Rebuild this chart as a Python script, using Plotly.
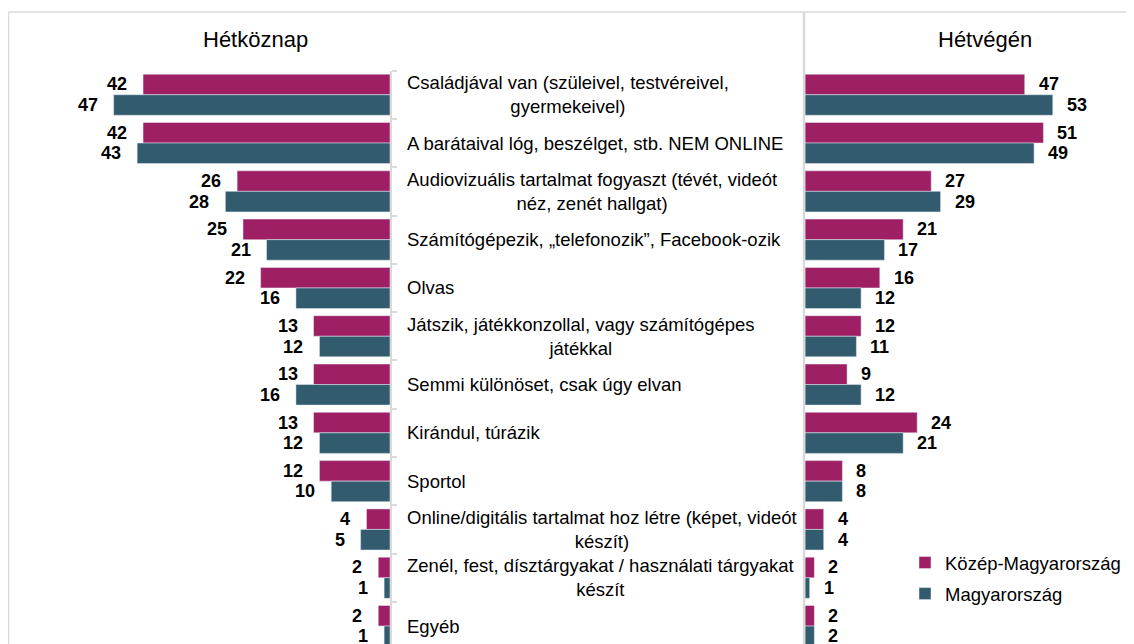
import plotly.graph_objects as go

categories = [
    "Családjával van (szüleivel, testvéreivel,<br>gyermekeivel)",
    "A barátaival lóg, beszélget, stb. NEM ONLINE",
    "Audiovizuális tartalmat fogyaszt (tévét, videót<br>néz, zenét hallgat)",
    "Számítógépezik, „telefonozik”, Facebook-ozik",
    "Olvas",
    "Játszik, játékkonzollal, vagy számítógépes<br>játékkal",
    "Semmi különöset, csak úgy elvan",
    "Kirándul, túrázik",
    "Sportol",
    "Online/digitális tartalmat hoz létre (képet, videót<br>készít)",
    "Zenél, fest, dísztárgyakat / használati tárgyakat<br>készít",
    "Egyéb",
]
series_names = ["Közép-Magyarország", "Magyarország"]
weekday_km = [42, 42, 26, 25, 22, 13, 13, 13, 12, 4, 2, 2]
weekday_mo = [47, 43, 28, 21, 16, 12, 16, 12, 10, 5, 1, 1]
weekend_km = [47, 51, 27, 21, 16, 12, 9, 24, 8, 4, 2, 2]
weekend_mo = [53, 49, 29, 17, 12, 11, 12, 21, 8, 4, 1, 2]
panel_titles = ["Hétköznap", "Hétvégén"]

PINK = "#9E1F63"
TEAL = "#325C6D"
GRID = "#D9D9D9"
FONT = "Liberation Sans, Arial, sans-serif"

# the page body has an 8px margin: the figure is sized so it fills the window exactly
OFF = 8
WIN_W, WIN_H = 1134, 644
W, H = WIN_W - OFF, WIN_H - OFF


def px(x):
    return (x - OFF) / W


def py(y):
    return 1 - (y - OFF) / H


pos = list(range(len(categories)))

fig = go.Figure()
fig.add_trace(go.Bar(y=pos, x=[-v for v in weekday_km], orientation="h", marker_color=PINK,
                     name=series_names[0], showlegend=False, xaxis="x", yaxis="y", hoverinfo="skip"))
fig.add_trace(go.Bar(y=pos, x=[-v for v in weekday_mo], orientation="h", marker_color=TEAL,
                     name=series_names[1], showlegend=False, xaxis="x", yaxis="y", hoverinfo="skip"))
fig.add_trace(go.Bar(y=pos, x=weekend_km, orientation="h", marker_color=PINK,
                     name=series_names[0], legendgroup="a", xaxis="x2", yaxis="y", hoverinfo="skip"))
fig.add_trace(go.Bar(y=pos, x=weekend_mo, orientation="h", marker_color=TEAL,
                     name=series_names[1], legendgroup="b", xaxis="x2", yaxis="y", hoverinfo="skip"))

annotations = []
off = 0.2125
for i, cat in enumerate(categories):
    annotations.append(dict(x=px(404.5), xref="paper", y=i, yref="y", text=cat, showarrow=False,
                            xanchor="left", yanchor="middle", align="center",
                            font=dict(size=18.5, color="#000000", family=FONT)))
    for vals, dy in ((weekday_km, -off), (weekday_mo, off)):
        annotations.append(dict(x=-vals[i], xref="x", y=i + dy, yref="y", text="<b>%d</b>" % vals[i],
                                showarrow=False, xanchor="right", yanchor="middle", xshift=-14,
                                font=dict(size=18, color="#000000", family=FONT)))
    for vals, dy in ((weekend_km, -off), (weekend_mo, off)):
        annotations.append(dict(x=vals[i], xref="x2", y=i + dy, yref="y", text="<b>%d</b>" % vals[i],
                                showarrow=False, xanchor="left", yanchor="middle", xshift=12,
                                font=dict(size=18, color="#000000", family=FONT)))

annotations.append(dict(x=px(255), y=py(40), xref="paper", yref="paper", text=panel_titles[0],
                        showarrow=False, xanchor="center", yanchor="middle",
                        font=dict(size=22, color="#000000", family=FONT)))
annotations.append(dict(x=px(985), y=py(40), xref="paper", yref="paper", text=panel_titles[1],
                        showarrow=False, xanchor="center", yanchor="middle",
                        font=dict(size=22, color="#000000", family=FONT)))

shapes = [
    dict(type="line", xref="paper", yref="paper", x0=px(8.5), x1=1, y0=py(12), y1=py(12),
         line=dict(color=GRID, width=1.5)),
    dict(type="line", xref="paper", yref="paper", x0=px(8.5), x1=px(8.5), y0=py(12), y1=0,
         line=dict(color=GRID, width=1.5)),
    dict(type="line", xref="paper", yref="paper", x0=px(804), x1=px(804), y0=py(12), y1=0,
         line=dict(color=GRID, width=2.5)),
]

left_scale = 5.88    # px per unit, weekday panel
right_scale = 4.675  # px per unit, weekend panel
row_px = 48.3
top_px = 70.6
n_visible = (WIN_H - top_px) / row_px

fig.update_layout(
    width=W, height=H,
    margin=dict(l=0, r=0, t=0, b=0),
    paper_bgcolor="white", plot_bgcolor="white",
    barmode="group", bargap=0.15, bargroupgap=0,
    font=dict(family=FONT, color="#000000"),
    xaxis=dict(domain=[0, px(390)], range=[-(390 - OFF) / left_scale, 0], showgrid=False,
               zeroline=False, showticklabels=False, showline=False, fixedrange=True),
    xaxis2=dict(domain=[px(805), 1], range=[0, (WIN_W - 805) / right_scale], showgrid=False,
                zeroline=False, showticklabels=False, showline=False, anchor="y", fixedrange=True),
    yaxis=dict(domain=[0, py(top_px)], range=[-0.5 + n_visible, -0.5], anchor="x", side="right",
               showgrid=False, zeroline=False, showticklabels=False, showline=True,
               linecolor=GRID, linewidth=1.5, ticks="outside", ticklen=5, tickcolor=GRID,
               tickwidth=1.5, tickmode="array", tickvals=[k - 0.5 for k in range(len(categories) + 1)],
               fixedrange=True),
    legend=dict(x=px(905), y=py(544), xanchor="left", yanchor="top", bgcolor="rgba(0,0,0,0)",
                font=dict(size=18.5, color="#000000", family=FONT), traceorder="grouped",
                tracegroupgap=4, itemwidth=30),
    annotations=annotations,
    shapes=shapes,
)

fig.write_html("out.html")
